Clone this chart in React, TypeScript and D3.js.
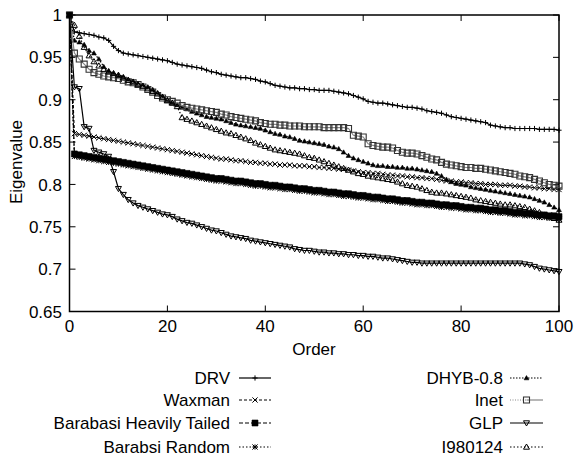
import React from 'react';
import * as d3 from 'd3';

const ORDERS: number[] = d3.range(0, 101);
const X_TICKS = [0, 20, 40, 60, 80, 100];
const Y_TICKS = [0.65, 0.7, 0.75, 0.8, 0.85, 0.9, 0.95, 1];
const Y_TICK_LABELS = ['0.65', '0.7', '0.75', '0.8', '0.85', '0.9', '0.95', '1'];

const DRV = [
  1.000, 0.980, 0.979, 0.978, 0.977, 0.976, 0.974, 0.973, 0.970, 0.963,
  0.958, 0.955, 0.954, 0.953, 0.952, 0.951, 0.950, 0.949, 0.948, 0.947,
  0.946, 0.944, 0.942, 0.941, 0.940, 0.939, 0.938, 0.937, 0.935, 0.933,
  0.932, 0.930, 0.929, 0.928, 0.927, 0.926, 0.926, 0.925, 0.924, 0.922,
  0.921, 0.919, 0.917, 0.916, 0.915, 0.914, 0.914, 0.913, 0.913, 0.912,
  0.912, 0.911, 0.911, 0.911, 0.910, 0.909, 0.908, 0.907, 0.905, 0.903,
  0.901, 0.898, 0.897, 0.896, 0.896, 0.895, 0.894, 0.893, 0.892, 0.891,
  0.891, 0.890, 0.889, 0.887, 0.886, 0.885, 0.884, 0.882, 0.880, 0.879,
  0.878, 0.877, 0.876, 0.875, 0.874, 0.873, 0.870, 0.869, 0.868, 0.867,
  0.867, 0.866, 0.866, 0.866, 0.866, 0.866, 0.865, 0.865, 0.865, 0.865, 0.864,
];

const WAXMAN = [
  1.000, 0.860, 0.859, 0.858, 0.857, 0.856, 0.855, 0.854, 0.853, 0.852,
  0.851, 0.850, 0.849, 0.848, 0.847, 0.846, 0.845, 0.844, 0.843, 0.842,
  0.841, 0.840, 0.839, 0.838, 0.837, 0.836, 0.835, 0.834, 0.833, 0.832,
  0.831, 0.830, 0.830, 0.829, 0.828, 0.828, 0.827, 0.826, 0.826, 0.825,
  0.825, 0.824, 0.824, 0.823, 0.823, 0.823, 0.822, 0.822, 0.822, 0.821,
  0.821, 0.820, 0.820, 0.819, 0.819, 0.818, 0.818, 0.817, 0.816, 0.815,
  0.814, 0.814, 0.813, 0.813, 0.812, 0.811, 0.811, 0.810, 0.810, 0.809,
  0.809, 0.808, 0.808, 0.807, 0.807, 0.806, 0.805, 0.804, 0.804, 0.803,
  0.803, 0.802, 0.802, 0.801, 0.801, 0.800, 0.800, 0.800, 0.799, 0.799,
  0.799, 0.798, 0.798, 0.797, 0.797, 0.796, 0.796, 0.795, 0.795, 0.794, 0.794,
];

const BARABASI_HT = [
  1.000, 0.836, 0.835, 0.834, 0.833, 0.832, 0.831, 0.830, 0.829, 0.828,
  0.827, 0.826, 0.825, 0.824, 0.823, 0.822, 0.821, 0.820, 0.819, 0.818,
  0.817, 0.816, 0.815, 0.814, 0.813, 0.812, 0.811, 0.810, 0.809, 0.808,
  0.807, 0.807, 0.806, 0.805, 0.804, 0.804, 0.803, 0.802, 0.801, 0.801,
  0.800, 0.799, 0.799, 0.798, 0.797, 0.797, 0.796, 0.795, 0.795, 0.794,
  0.793, 0.793, 0.792, 0.791, 0.791, 0.790, 0.789, 0.789, 0.788, 0.787,
  0.787, 0.786, 0.785, 0.785, 0.784, 0.783, 0.783, 0.782, 0.781, 0.781,
  0.780, 0.779, 0.779, 0.778, 0.778, 0.777, 0.776, 0.776, 0.775, 0.775,
  0.774, 0.773, 0.773, 0.772, 0.772, 0.771, 0.770, 0.770, 0.769, 0.769,
  0.768, 0.767, 0.767, 0.766, 0.766, 0.765, 0.764, 0.764, 0.763, 0.763, 0.762,
];

const BARABSI_RANDOM = [
  1.000, 0.833, 0.832, 0.831, 0.830, 0.829, 0.828, 0.827, 0.826, 0.825,
  0.824, 0.823, 0.822, 0.821, 0.820, 0.819, 0.818, 0.817, 0.816, 0.815,
  0.814, 0.813, 0.812, 0.811, 0.810, 0.809, 0.808, 0.807, 0.806, 0.805,
  0.804, 0.804, 0.803, 0.802, 0.801, 0.801, 0.800, 0.799, 0.798, 0.798,
  0.797, 0.796, 0.796, 0.795, 0.794, 0.794, 0.793, 0.792, 0.792, 0.791,
  0.790, 0.790, 0.789, 0.788, 0.788, 0.787, 0.786, 0.786, 0.785, 0.784,
  0.784, 0.783, 0.782, 0.782, 0.781, 0.780, 0.780, 0.779, 0.778, 0.778,
  0.777, 0.776, 0.776, 0.775, 0.775, 0.774, 0.773, 0.773, 0.772, 0.772,
  0.771, 0.770, 0.770, 0.769, 0.769, 0.768, 0.767, 0.767, 0.766, 0.766,
  0.765, 0.764, 0.764, 0.763, 0.763, 0.762, 0.761, 0.761, 0.760, 0.760, 0.759,
];

const DHYB = [
  1.000, 0.970, 0.968, 0.965, 0.958, 0.955, 0.948, 0.939, 0.934, 0.931,
  0.929, 0.927, 0.924, 0.921, 0.919, 0.917, 0.915, 0.912, 0.908, 0.904,
  0.900, 0.897, 0.894, 0.891, 0.889, 0.886, 0.884, 0.882, 0.880, 0.879,
  0.878, 0.877, 0.875, 0.873, 0.871, 0.870, 0.869, 0.868, 0.867, 0.866,
  0.864, 0.862, 0.860, 0.859, 0.857, 0.856, 0.854, 0.852, 0.851, 0.850,
  0.849, 0.848, 0.847, 0.845, 0.844, 0.842, 0.838, 0.834, 0.831, 0.829,
  0.827, 0.825, 0.823, 0.822, 0.822, 0.821, 0.821, 0.820, 0.820, 0.819,
  0.819, 0.818, 0.817, 0.816, 0.815, 0.813, 0.810, 0.806, 0.803, 0.801,
  0.800, 0.799, 0.797, 0.796, 0.795, 0.794, 0.793, 0.792, 0.791, 0.790,
  0.789, 0.788, 0.787, 0.786, 0.785, 0.783, 0.781, 0.779, 0.776, 0.773, 0.770,
];

const INET = [
  1.000, 0.955, 0.948, 0.942, 0.936, 0.932, 0.930, 0.928, 0.927, 0.926,
  0.925, 0.923, 0.921, 0.920, 0.918, 0.915, 0.912, 0.909, 0.905, 0.902,
  0.900, 0.898, 0.896, 0.893, 0.891, 0.890, 0.889, 0.888, 0.887, 0.886,
  0.885, 0.883, 0.882, 0.880, 0.879, 0.878, 0.877, 0.876, 0.875, 0.873,
  0.872, 0.871, 0.871, 0.870, 0.870, 0.869, 0.869, 0.869, 0.868, 0.868,
  0.868, 0.868, 0.867, 0.867, 0.867, 0.867, 0.867, 0.866, 0.858, 0.857,
  0.856, 0.848, 0.846, 0.845, 0.844, 0.844, 0.843, 0.840, 0.838, 0.837,
  0.837, 0.836, 0.834, 0.832, 0.830, 0.829, 0.826, 0.824, 0.823, 0.822,
  0.821, 0.820, 0.820, 0.819, 0.819, 0.818, 0.817, 0.816, 0.815, 0.814,
  0.813, 0.812, 0.810, 0.809, 0.808, 0.806, 0.804, 0.802, 0.800, 0.799, 0.798,
];

const GLP = [
  1.000, 0.915, 0.913, 0.868, 0.866, 0.840, 0.838, 0.836, 0.833, 0.815,
  0.795, 0.788, 0.782, 0.778, 0.775, 0.773, 0.771, 0.769, 0.767, 0.765,
  0.764, 0.762, 0.759, 0.757, 0.755, 0.754, 0.752, 0.750, 0.748, 0.746,
  0.745, 0.743, 0.741, 0.739, 0.738, 0.737, 0.736, 0.734, 0.733, 0.732,
  0.731, 0.730, 0.729, 0.728, 0.727, 0.726, 0.724, 0.723, 0.722, 0.722,
  0.721, 0.720, 0.720, 0.719, 0.719, 0.718, 0.718, 0.717, 0.717, 0.716,
  0.716, 0.715, 0.715, 0.714, 0.713, 0.713, 0.712, 0.711, 0.710, 0.709,
  0.708, 0.708, 0.707, 0.707, 0.707, 0.707, 0.707, 0.707, 0.707, 0.707,
  0.707, 0.707, 0.707, 0.707, 0.707, 0.707, 0.707, 0.707, 0.707, 0.707,
  0.707, 0.707, 0.707, 0.706, 0.705, 0.703, 0.701, 0.700, 0.699, 0.698, 0.697,
];

const I980124 = [
  1.000, 0.988, 0.975, 0.962, 0.952, 0.945, 0.940, 0.936, 0.933, 0.931,
  0.929, 0.926, 0.923, 0.921, 0.918, 0.916, 0.913, 0.910, 0.907, 0.903,
  0.899, 0.896, 0.892, 0.879, 0.877, 0.875, 0.873, 0.871, 0.869, 0.867,
  0.865, 0.863, 0.861, 0.860, 0.858, 0.856, 0.854, 0.852, 0.849, 0.847,
  0.845, 0.843, 0.841, 0.840, 0.839, 0.838, 0.837, 0.836, 0.834, 0.832,
  0.831, 0.829, 0.827, 0.825, 0.823, 0.821, 0.819, 0.817, 0.815, 0.813,
  0.812, 0.810, 0.809, 0.808, 0.807, 0.806, 0.805, 0.803, 0.801, 0.799,
  0.798, 0.797, 0.795, 0.793, 0.791, 0.790, 0.790, 0.789, 0.788, 0.787,
  0.786, 0.785, 0.784, 0.782, 0.781, 0.780, 0.779, 0.778, 0.777, 0.776,
  0.776, 0.775, 0.774, 0.773, 0.771, 0.769, 0.767, 0.764, 0.762, 0.760, 0.758,
];

type Marker = 'plus' | 'cross' | 'fsquare' | 'star' | 'ftri' | 'osquare' | 'otridown' | 'otri';

interface Series {
  name: string;
  values: number[];
  marker: Marker;
  dash: string;
  color: string;
  col: number;
  row: number;
}

const SERIES: Series[] = [
  { name: 'DRV', values: DRV, marker: 'plus', dash: '', color: '#000', col: 0, row: 0 },
  { name: 'Waxman', values: WAXMAN, marker: 'cross', dash: '3,2', color: '#000', col: 0, row: 1 },
  { name: 'Barabasi Heavily Tailed', values: BARABASI_HT, marker: 'fsquare', dash: '4,2', color: '#000', col: 0, row: 2 },
  { name: 'Barabsi Random', values: BARABSI_RANDOM, marker: 'star', dash: '1.5,2', color: '#000', col: 0, row: 3 },
  { name: 'DHYB-0.8', values: DHYB, marker: 'ftri', dash: '1.5,1.5', color: '#000', col: 1, row: 0 },
  { name: 'Inet', values: INET, marker: 'osquare', dash: '', color: '#888', col: 1, row: 1 },
  { name: 'GLP', values: GLP, marker: 'otridown', dash: '', color: '#000', col: 1, row: 2 },
  { name: 'I980124', values: I980124, marker: 'otri', dash: '1.5,2', color: '#000', col: 1, row: 3 },
];

const W = 576;
const H = 458;
const PL = 69.5, PR = 559, PT = 15, PB = 311.5;
const FONT = 'Liberation Sans, Arial, Helvetica, sans-serif';

function markerPath(m: Marker): string {
  const s = 2.6;
  switch (m) {
    case 'plus': return `M${-s},0H${s}M0,${-s}V${s}`;
    case 'cross': return `M${-s},${-s}L${s},${s}M${-s},${s}L${s},${-s}`;
    case 'star': return `M${-s},0H${s}M0,${-s}V${s}M${-s},${-s}L${s},${s}M${-s},${s}L${s},${-s}`;
    case 'fsquare': return `M${-3},${-3}H3V3H-3Z`;
    case 'osquare': return `M${-3},${-3}H3V3H-3Z`;
    case 'ftri': return `M0,${-2.4}L2.4,1.8L-2.4,1.8Z`;
    case 'otri': return `M0,${-3}L3,2.2L-3,2.2Z`;
    case 'otridown': return `M0,3L3,-2.2L-3,-2.2Z`;
  }
  return '';
}

function markerStyle(m: Marker) {
  if (m === 'fsquare' || m === 'ftri') return { fill: '#000', stroke: '#000', strokeWidth: 0.6 };
  if (m === 'osquare') return { fill: 'none', stroke: '#333', strokeWidth: 1.1 };
  return { fill: 'none', stroke: '#000', strokeWidth: 1 };
}

export default function App() {
  const x = d3.scaleLinear().domain([0, 100]).range([PL, PR]);
  const y = d3.scaleLinear().domain([0.65, 1]).range([PB, PT]);
  const line = d3.line<number>().x((_, i) => x(ORDERS[i])).y((d) => y(d));

  const legendCols = [
    { textX: 230, x1: 239, x2: 271 },
    { textX: 503, x1: 510, x2: 543 },
  ];
  const legendRows = [378, 400, 423, 447];

  return (
    <svg width={W} height={H} style={{ position: 'absolute', left: 0, top: 0, background: '#fff' }} fontFamily={FONT}>
      <rect x={0} y={0} width={W} height={H} fill="#fff" />
      {/* ticks */}
      {Y_TICKS.map((t, i) => (
        <g key={'yt' + i}>
          <line x1={PL} x2={PL + 6} y1={y(t)} y2={y(t)} stroke="#000" strokeWidth={1} />
          <line x1={PR} x2={PR - 6} y1={y(t)} y2={y(t)} stroke="#000" strokeWidth={1} />
          <text x={62} y={y(t)} dy="0.36em" textAnchor="end" fontSize={17}>{Y_TICK_LABELS[i]}</text>
        </g>
      ))}
      {X_TICKS.map((t, i) => (
        <g key={'xt' + i}>
          <line x1={x(t)} x2={x(t)} y1={PB} y2={PB - 6} stroke="#000" strokeWidth={1} />
          <line x1={x(t)} x2={x(t)} y1={PT} y2={PT + 6} stroke="#000" strokeWidth={1} />
          <text x={x(t)} y={332} textAnchor="middle" fontSize={17}>{String(t)}</text>
        </g>
      ))}
      <text x={314} y={355} textAnchor="middle" fontSize={17}>Order</text>
      <text transform={`translate(22,162) rotate(-90)`} textAnchor="middle" fontSize={17}>Eigenvalue</text>

      {/* series */}
      {SERIES.map((s) => (
        <g key={s.name}>
          <path d={line(s.values) || ''} fill="none" stroke={s.color} strokeWidth={1.2} strokeDasharray={s.dash || undefined} />
          {s.values.map((v, i) => (
            <path key={i} d={markerPath(s.marker)} transform={`translate(${x(ORDERS[i])},${y(v)})`} {...markerStyle(s.marker)} />
          ))}
        </g>
      ))}

      {/* frame */}
      <rect x={PL} y={PT} width={PR - PL} height={PB - PT} fill="none" stroke="#000" strokeWidth={1.5} />

      {/* legend */}
      {SERIES.map((s) => {
        const c = legendCols[s.col];
        const ly = legendRows[s.row];
        const mid = (c.x1 + c.x2) / 2;
        return (
          <g key={'lg' + s.name}>
            <text x={c.textX} y={ly} dy="0.36em" textAnchor="end" fontSize={17}>{s.name}</text>
            {s.marker === 'osquare' ? (
              <>
                <line x1={c.x1} x2={mid} y1={ly} y2={ly} stroke={s.color} strokeWidth={1.2} strokeDasharray="1,1.5" />
                <line x1={mid} x2={c.x2} y1={ly} y2={ly} stroke={s.color} strokeWidth={1.2} />
              </>
            ) : (
              <line x1={c.x1} x2={c.x2} y1={ly} y2={ly} stroke={s.color} strokeWidth={1.2} strokeDasharray={s.dash || undefined} />
            )}
            <path d={markerPath(s.marker)} transform={`translate(${mid},${ly})`} {...markerStyle(s.marker)} />
          </g>
        );
      })}
    </svg>
  );
}
